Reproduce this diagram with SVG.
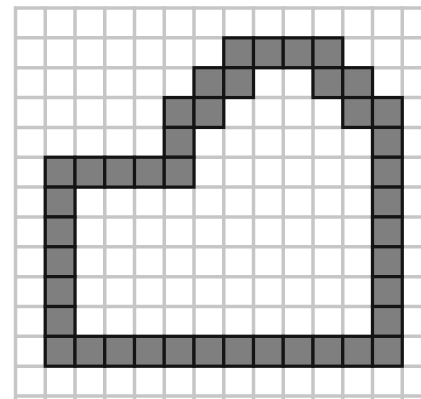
<svg xmlns="http://www.w3.org/2000/svg" xmlns:xlink="http://www.w3.org/1999/xlink" width="421" height="399" viewBox="0 0 421 399">
<style>
.g{stroke:#c6c6c6;stroke-width:3.5;fill:none}
.cell{fill:#7f7f7f;stroke:#141414;stroke-width:3.2}
</style>
<defs>
<rect id="c" class="cell" width="29.75" height="29.85"/>
</defs>
<rect width="421" height="399" fill="#fff"/>
<g id="grid" class="g">
<path d="M15.5 6.5V399M45.25 6.5V399M75 6.5V399M104.75 6.5V399M134.5 6.5V399M164.25 6.5V399M194 6.5V399M223.75 6.5V399M253.5 6.5V399M283.25 6.5V399M313 6.5V399M342.75 6.5V399M372.5 6.5V399M402.25 6.5V399"/>
<path d="M14 8H421M14 37.85H421M14 67.7H421M14 97.55H421M14 127.4H421M14 157.25H421M14 187.1H421M14 216.95H421M14 246.8H421M14 276.65H421M14 306.5H421M14 336.35H421M14 366.2H421M14 396.05H421"/>
</g>
<g id="shape">
<!-- row 1 -->
<use href="#c" x="223.75" y="37.85"/><use href="#c" x="253.5" y="37.85"/><use href="#c" x="283.25" y="37.85"/><use href="#c" x="313" y="37.85"/>
<!-- row 2 -->
<use href="#c" x="194" y="67.7"/><use href="#c" x="223.75" y="67.7"/><use href="#c" x="313" y="67.7"/><use href="#c" x="342.75" y="67.7"/>
<!-- row 3 -->
<use href="#c" x="164.25" y="97.55"/><use href="#c" x="194" y="97.55"/><use href="#c" x="342.75" y="97.55"/><use href="#c" x="372.5" y="97.55"/>
<!-- row 4 -->
<use href="#c" x="164.25" y="127.4"/><use href="#c" x="372.5" y="127.4"/>
<!-- row 5 -->
<use href="#c" x="45.25" y="157.25"/><use href="#c" x="75" y="157.25"/><use href="#c" x="104.75" y="157.25"/><use href="#c" x="134.5" y="157.25"/><use href="#c" x="164.25" y="157.25"/><use href="#c" x="372.5" y="157.25"/>
<!-- rows 6-10 -->
<use href="#c" x="45.25" y="187.1"/><use href="#c" x="372.5" y="187.1"/>
<use href="#c" x="45.25" y="216.95"/><use href="#c" x="372.5" y="216.95"/>
<use href="#c" x="45.25" y="246.8"/><use href="#c" x="372.5" y="246.8"/>
<use href="#c" x="45.25" y="276.65"/><use href="#c" x="372.5" y="276.65"/>
<use href="#c" x="45.25" y="306.5"/><use href="#c" x="372.5" y="306.5"/>
<!-- row 11 -->
<use href="#c" x="45.25" y="336.35"/><use href="#c" x="75" y="336.35"/><use href="#c" x="104.75" y="336.35"/><use href="#c" x="134.5" y="336.35"/><use href="#c" x="164.25" y="336.35"/><use href="#c" x="194" y="336.35"/><use href="#c" x="223.75" y="336.35"/><use href="#c" x="253.5" y="336.35"/><use href="#c" x="283.25" y="336.35"/><use href="#c" x="313" y="336.35"/><use href="#c" x="342.75" y="336.35"/><use href="#c" x="372.5" y="336.35"/>
</g>
</svg>
